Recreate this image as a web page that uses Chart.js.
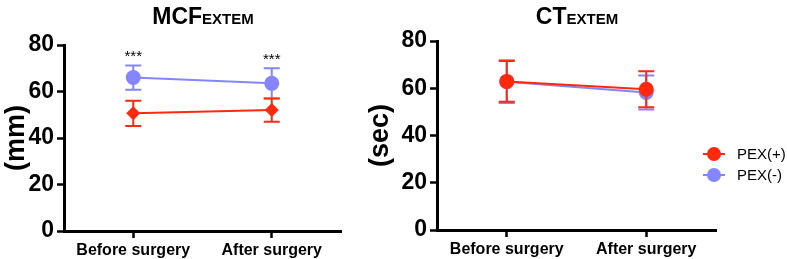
<!DOCTYPE html>
<html lang="en">
<head>
<meta charset="UTF-8">
<title>MCF EXTEM / CT EXTEM</title>
<script src="https://cdn.jsdelivr.net/npm/chart.js"></script>
<style>
  body { margin: 0; width: 787px; height: 259px; position: relative; background: #fff; overflow: hidden;
         font-family: "Liberation Sans", Arial, sans-serif; }
  canvas { position: absolute; top: 0; }
  .titulo { position: absolute; top: 3px; font-weight: bold; font-size: 23px; line-height: 26px;
            transform: translateX(-50%); white-space: nowrap; color: #000; }
  .titulo span { font-size: 15px; }
  .legenda { position: absolute; left: 703px; font-size: 15px; color: #000; height: 20px; line-height: 20px; }
  .legenda .marca { position: absolute; left: 0; top: 9px; width: 22px; height: 2px; }
  .legenda .bola { position: absolute; left: 4px; top: 3px; width: 14px; height: 14px; border-radius: 50%; }
  .legenda .texto { position: absolute; left: 34px; top: 0; white-space: nowrap; }
</style>
</head>
<body>
  <canvas id="graficoMcf" width="355" height="259" style="left:0px"></canvas>
  <canvas id="graficoCt" width="423" height="259" style="left:364px"></canvas>
  <div class="titulo" style="left:203px">MCF<span>EXTEM</span></div>
  <div class="titulo" style="left:577px">CT<span>EXTEM</span></div>
  <div id="legendas"></div>

<script>
  // dados
  const categorias = ['Before surgery', 'After surgery'];
  const grupos = ['PEX(+)', 'PEX(-)'];
  const cores = ['#ff2a0e', '#8585ff'];

  const mcfPexPos = [50.6, 52.0];
  const mcfPexPosSd = [5.4, 5.0];
  const mcfPexNeg = [66.0, 63.5];
  const mcfPexNegSd = [5.2, 6.5];

  const ctPexPos = [62.9, 59.6];
  const ctPexPosSd = [8.6, 7.6];
  const ctPexNeg = [62.8, 58.2];
  const ctPexNegSd = [9.0, 7.2];

  const significancia = ['***', '***'];
  const ticksY = [0, 20, 40, 60, 80];

  Chart.defaults.font.family = '"Liberation Sans", Arial, sans-serif';
  Chart.defaults.color = '#000';

  // barras de erro (media +- dp) desenhadas pela escala y
  const barrasErro = {
    id: 'barrasErro',
    beforeDatasetDraw(chart, args) {
      const ds = chart.data.datasets[args.index];
      if (!ds.sd) return;
      const ctx = chart.ctx;
      const escalaY = chart.scales.y;
      ctx.save();
      ctx.strokeStyle = ds.borderColor;
      ctx.lineWidth = 2;
      args.meta.data.forEach(function (pt, i) {
        const yTopo = escalaY.getPixelForValue(ds.data[i] + ds.sd[i]);
        const yBase = escalaY.getPixelForValue(ds.data[i] - ds.sd[i]);
        ctx.beginPath();
        ctx.moveTo(pt.x, yTopo); ctx.lineTo(pt.x, yBase);
        ctx.moveTo(pt.x - 8, yTopo); ctx.lineTo(pt.x + 8, yTopo);
        ctx.moveTo(pt.x - 8, yBase); ctx.lineTo(pt.x + 8, yBase);
        ctx.stroke();
        if (ds.sig && ds.sig[i]) {
          ctx.fillStyle = '#000';
          ctx.font = '15px "Liberation Sans", Arial, sans-serif';
          ctx.textAlign = 'center';
          ctx.textBaseline = 'alphabetic';
          ctx.fillText(ds.sig[i], pt.x, yTopo - 4);
        }
      });
      ctx.restore();
    }
  };

  function criarGrafico(id, serieA, sdA, serieB, sdB, formaA, tituloY, larguraY, topo, direita, alturaX, sig) {
    const dados = {
      labels: categorias,
      datasets: [{
        label: grupos[0],
        data: serieA,
        sd: sdA,
        borderColor: cores[0],
        backgroundColor: cores[0],
        borderWidth: 2,
        pointStyle: formaA,
        pointRadius: formaA === 'rectRot' ? 7 : 7.5,
        pointBorderWidth: 0
      }, {
        label: grupos[1],
        data: serieB,
        sd: sdB,
        sig: sig,
        borderColor: cores[1],
        backgroundColor: cores[1],
        borderWidth: 2,
        pointStyle: 'circle',
        pointRadius: 7.5,
        pointBorderWidth: 0
      }]
    };

    const config = {
      type: 'line',
      data: dados,
      plugins: [barrasErro],
      options: {
        responsive: false,
        animation: false,
        layout: { autoPadding: false, padding: { top: topo, right: direita, left: 0, bottom: 0 } },
        plugins: { legend: { display: false }, tooltip: { enabled: false } },
        scales: {
          x: {
            offset: true,
            grid: { offset: false, drawOnChartArea: false, tickLength: 7, tickWidth: 2.5, tickColor: '#000' },
            border: { color: '#000', width: 3 },
            ticks: { padding: 3, font: { size: 16, weight: 'bold' }, color: '#000' },
            afterFit: function (escala) { escala.height = alturaX; }
          },
          y: {
            min: ticksY[0],
            max: ticksY[ticksY.length - 1],
            ticks: { stepSize: ticksY[1] - ticksY[0], padding: 3, font: { size: 23, weight: 'bold' }, color: '#000' },
            grid: { drawOnChartArea: false, tickLength: 7, tickWidth: 2.5, tickColor: '#000' },
            border: { color: '#000', width: 3 },
            title: { display: true, text: tituloY, padding: 0, font: { size: 27, weight: 'bold' }, color: '#000' },
            afterFit: function (escala) { escala.width = larguraY; }
          }
        }
      }
    };

    return new Chart(document.getElementById(id), config);
  }

  criarGrafico('graficoMcf', mcfPexPos, mcfPexPosSd, mcfPexNeg, mcfPexNegSd, 'rectRot', '(mm)', 64, 45, 14, 28, significancia);
  criarGrafico('graficoCt', ctPexPos, ctPexPosSd, ctPexNeg, ctPexNegSd, 'circle', '(sec)', 73, 41, 71, 29, null);

  // legenda
  const caixa = document.getElementById('legendas');
  grupos.forEach(function (nome, i) {
    const item = document.createElement('div');
    item.className = 'legenda';
    item.style.top = (144 + i * 21) + 'px';
    item.innerHTML = '<div class="marca" style="background:' + cores[i] + '"></div>' +
                     '<div class="bola" style="background:' + cores[i] + '"></div>' +
                     '<div class="texto">' + nome + '</div>';
    caixa.appendChild(item);
  });
</script>
</body>
</html>
